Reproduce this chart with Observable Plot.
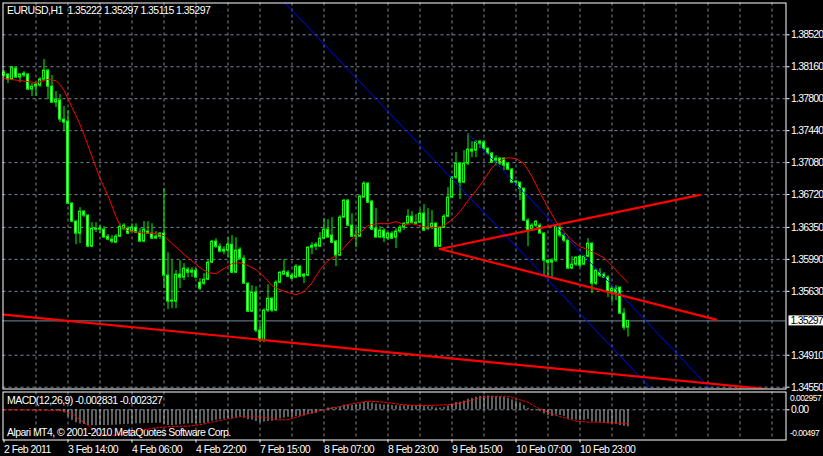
<!DOCTYPE html>
<html><head><meta charset="utf-8">
<script src="https://cdn.jsdelivr.net/npm/d3@7"></script>
<script src="https://cdn.jsdelivr.net/npm/@observablehq/plot@0.6"></script>
<style>
html,body{margin:0;padding:0;background:#000;}
#chart{position:relative;width:823px;height:456px;background:#000;overflow:hidden;}
#chart svg{position:absolute;left:0;top:0;}
#chart g[aria-label="y-axis tick label"]{letter-spacing:-0.8px;}
</style></head><body><div id="chart"></div>
<script>
const symbol = "EURUSD,H1";
const opens = [
1.38061,1.38072,1.38016,1.38140,1.38038,1.38061,1.38072,1.37903,1.37936,1.37948,
1.38016,1.38117,1.37936,1.37756,1.37779,1.37565,1.37543,1.36618,1.36415,1.36280,
1.36528,1.36483,1.36133,1.36336,1.36325,1.36325,1.36246,1.36213,1.36178,1.36246,
1.36336,1.36336,1.36303,1.36347,1.36291,1.36190,1.36303,1.36280,1.36224,1.36246,
1.36280,1.35807,1.35514,1.35514,1.35818,1.35784,1.35874,1.35840,1.35863,1.35727,
1.35716,1.35761,1.35953,1.36190,1.36133,1.36077,1.36088,1.36156,1.35840,1.36099,
1.35998,1.35716,1.35401,1.35615,1.35187,1.35074,1.35412,1.35547,1.35412,1.35727,
1.35818,1.35840,1.35807,1.35784,1.35908,1.35795,1.35807,1.36122,1.36133,1.36133,
1.36224,1.36325,1.36258,1.36190,1.36032,1.36460,1.36652,1.36370,1.36246,1.36246,
1.36686,1.36843,1.36641,1.36336,1.36235,1.36314,1.36224,1.36280,1.36235,1.36303,
1.36347,1.36392,1.36471,1.36403,1.36403,1.36505,1.36336,1.36347,1.36392,1.36133,
1.36347,1.36471,1.36686,1.36911,1.37069,1.36855,1.37069,1.37227,1.37215,1.37294,
1.37306,1.37238,1.37182,1.37103,1.37125,1.37125,1.37069,1.37001,1.36855,1.36855,
1.36787,1.36426,1.36325,1.36370,1.36370,1.36280,1.35976,1.35953,1.35976,1.36347,
1.36258,1.36201,1.35886,1.35931,1.36020,1.35931,1.36020,1.36167,1.35716,1.35840,
1.35818,1.35784,1.35626,1.35660,1.35671,1.35378,1.35222];
const highs = [
1.38117,1.38083,1.38162,1.38151,1.38083,1.38106,1.38083,1.37970,1.37981,1.38038,
1.38241,1.38128,1.38061,1.37881,1.37847,1.37711,1.37666,1.36629,1.36426,1.36573,
1.36539,1.36494,1.36403,1.36403,1.36370,1.36358,1.36269,1.36258,1.36269,1.36392,
1.36392,1.36358,1.36392,1.36392,1.36336,1.36415,1.36415,1.36392,1.36303,1.36291,
1.36787,1.36065,1.35976,1.35863,1.35976,1.35942,1.35897,1.35897,1.35886,1.35773,
1.35829,1.35976,1.36201,1.36224,1.36167,1.36133,1.36235,1.36258,1.36235,1.36122,
1.36032,1.35727,1.35694,1.35682,1.35265,1.35435,1.35705,1.35559,1.35750,1.35852,
1.35987,1.35863,1.35829,1.35931,1.35920,1.35829,1.36133,1.36178,1.36178,1.36291,
1.36449,1.36437,1.36460,1.36201,1.36483,1.36663,1.36663,1.36505,1.36347,1.36708,
1.36866,1.36855,1.36652,1.36562,1.36358,1.36336,1.36291,1.36303,1.36336,1.36370,
1.36403,1.36550,1.36528,1.36494,1.36550,1.36607,1.36562,1.36539,1.36403,1.36358,
1.36494,1.36798,1.36922,1.37193,1.37080,1.37215,1.37407,1.37317,1.37328,1.37328,
1.37328,1.37238,1.37193,1.37159,1.37136,1.37136,1.37069,1.37013,1.36877,1.36855,
1.36787,1.36449,1.36392,1.36426,1.36392,1.36291,1.35987,1.35998,1.36370,1.36370,
1.36280,1.36224,1.36020,1.36020,1.36032,1.36032,1.36224,1.36178,1.35886,1.35886,
1.35840,1.35807,1.35671,1.35694,1.35682,1.35435,1.35297];
const lows = [
1.38038,1.37970,1.38004,1.38027,1.37981,1.38038,1.37892,1.37824,1.37824,1.37925,
1.38004,1.37790,1.37745,1.37700,1.37531,1.37430,1.36607,1.36403,1.36156,1.36167,
1.36460,1.36122,1.36122,1.36291,1.36280,1.36235,1.36201,1.36167,1.36167,1.36235,
1.36314,1.36269,1.36291,1.36280,1.36178,1.36178,1.36269,1.36213,1.36213,1.36213,
1.35660,1.35424,1.35435,1.35435,1.35660,1.35750,1.35784,1.35784,1.35784,1.35637,
1.35694,1.35750,1.35942,1.36111,1.36065,1.36043,1.36009,1.35829,1.35829,1.35976,
1.35716,1.35390,1.35390,1.35164,1.35051,1.35051,1.35390,1.35390,1.35401,1.35716,
1.35807,1.35784,1.35761,1.35773,1.35784,1.35716,1.35795,1.36043,1.36088,1.36122,
1.36213,1.36235,1.36167,1.35908,1.36020,1.36460,1.36358,1.36235,1.36122,1.36235,
1.36686,1.36618,1.36314,1.36235,1.36235,1.36178,1.36201,1.36213,1.36111,1.36280,
1.36314,1.36381,1.36392,1.36381,1.36392,1.36303,1.36314,1.36325,1.36122,1.36122,
1.36336,1.36460,1.36675,1.36888,1.36663,1.36843,1.37046,1.37136,1.37136,1.37238,
1.37215,1.37159,1.37069,1.37046,1.37046,1.36990,1.36990,1.36843,1.36821,1.36652,
1.36415,1.36133,1.36303,1.36347,1.36280,1.35807,1.35784,1.35784,1.35953,1.36235,
1.36178,1.35874,1.35874,1.35908,1.35897,1.35920,1.36009,1.35604,1.35694,1.35784,
1.35773,1.35559,1.35502,1.35525,1.35378,1.35187,1.35115];
const closes = [
1.38094,1.38016,1.38151,1.38038,1.38072,1.38083,1.37903,1.37936,1.37959,1.38016,
1.38117,1.37936,1.37756,1.37790,1.37565,1.37531,1.36618,1.36415,1.36280,1.36528,
1.36483,1.36133,1.36336,1.36325,1.36336,1.36235,1.36213,1.36190,1.36246,1.36358,
1.36370,1.36280,1.36347,1.36291,1.36190,1.36325,1.36280,1.36224,1.36246,1.36280,
1.35807,1.35514,1.35525,1.35818,1.35784,1.35886,1.35840,1.35863,1.35784,1.35660,
1.35761,1.35953,1.36190,1.36133,1.36077,1.36099,1.36156,1.35840,1.36088,1.35998,
1.35716,1.35401,1.35615,1.35187,1.35074,1.35412,1.35547,1.35412,1.35727,1.35840,
1.35852,1.35795,1.35773,1.35908,1.35795,1.35818,1.36122,1.36144,1.36156,1.36224,
1.36325,1.36235,1.36178,1.36032,1.36460,1.36652,1.36370,1.36246,1.36258,1.36697,
1.36843,1.36629,1.36325,1.36235,1.36314,1.36235,1.36280,1.36224,1.36303,1.36347,
1.36392,1.36471,1.36403,1.36392,1.36505,1.36314,1.36347,1.36392,1.36133,1.36347,
1.36471,1.36686,1.36911,1.37069,1.36855,1.37069,1.37227,1.37204,1.37306,1.37317,
1.37238,1.37182,1.37080,1.37125,1.37069,1.37046,1.37001,1.36855,1.36866,1.36787,
1.36426,1.36314,1.36370,1.36415,1.36280,1.35976,1.35953,1.35976,1.36358,1.36258,
1.36201,1.35886,1.35931,1.36009,1.35920,1.36020,1.36167,1.35716,1.35863,1.35807,
1.35784,1.35626,1.35660,1.35615,1.35378,1.35221,1.35297];

// moving average (bar index, price)
const maIdx = [0,4,8,11,13,14,15,16,17,18,19,20,21,22,23,24,26,28,29,31,34,38,40,42,46,49,51,53,55,57,59,61,63,65,67,69,71,73,75,77,79,81,83,85,87,89,91,93,96,98,100,102,105,108,110,112,114,116,118,120,122,124,126,128,130,132,134,136,138,140,142,144,146,148,150,152,154,156];
const maVal = [1.38027,1.38004,1.37981,1.38016,1.38004,1.37959,1.37892,1.37802,1.37700,1.37610,1.37509,1.37396,1.37272,1.37148,1.37024,1.36900,1.36708,1.36472,1.36370,1.36314,1.36291,1.36280,1.36258,1.36167,1.36009,1.35897,1.35840,1.35829,1.35886,1.35942,1.35953,1.35920,1.35874,1.35795,1.35694,1.35648,1.35615,1.35592,1.35626,1.35727,1.35874,1.35976,1.36032,1.36122,1.36224,1.36291,1.36370,1.36392,1.36392,1.36415,1.36381,1.36392,1.36358,1.36347,1.36370,1.36437,1.36528,1.36652,1.36765,1.36888,1.37024,1.37103,1.37136,1.37125,1.37069,1.36922,1.36742,1.36573,1.36415,1.36303,1.36201,1.36133,1.36099,1.36054,1.36009,1.35920,1.35818,1.35727];

// trend lines: [bar index, price] anchor pairs
const supportIdx = [0, 190], supportPx = [1.35367, 1.34532];
const wedgeUpIdx = [109, 174], wedgeUpPx = [1.36107, 1.36717];
const wedgeDnIdx = [109, 178], wedgeDnPx = [1.36107, 1.35312];
const channelAIdx = [70, 162], channelAPx = [1.38890, 1.34523];
const channelBIdx = [116, 177], channelBPx = [1.37407, 1.34512];

// MACD(12,26,9)
const macdHist = [
0.00004,0.00002,0.00005,0.00004,0.00003,0.00003,-0.00002,-0.00005,-0.00007,-0.00005,0.00002,-0.00002,-0.00010,-0.00014,
-0.00030,-0.00050,-0.00120,-0.00175,-0.00215,-0.00235,-0.00245,-0.00262,-0.00265,
-0.00265,-0.00262,-0.00262,-0.00260,-0.00258,-0.00255,-0.00250,-0.00245,-0.00242,-0.00238,-0.00235,-0.00235,-0.00230,-0.00228,-0.00226,-0.00225,-0.00222,
-0.00240,-0.00262,-0.00262,-0.00255,-0.00250,-0.00240,-0.00235,-0.00230,-0.00230,-0.00235,-0.00230,
-0.00215,-0.00190,-0.00175,-0.00165,-0.00155,-0.00145,-0.00150,-0.00135,-0.00130,-0.00140,-0.00165,-0.00170,-0.00195,-0.00215,-0.00205,-0.00195,-0.00190,-0.00170,-0.00150,-0.00135,-0.00125,
-0.00120,-0.00110,-0.00110,-0.00100,-0.00080,-0.00070,-0.00060,-0.00030,0.00000,
0.00030,0.00035,0.00030,0.00050,0.00075,0.00080,0.00080,0.00075,0.00100,0.00125,0.00125,0.00110,0.00095,0.00088,0.00080,0.00075,0.00070,0.00068,
0.00066,0.00066,0.00070,0.00068,0.00065,0.00066,0.00055,0.00050,0.00048,0.00030,0.00030,0.00040,
0.00065,0.00090,0.00120,0.00125,0.00145,0.00175,0.00190,0.00210,0.00222,0.00228,0.00230,0.00225,0.00222,0.00218,0.00205,0.00190,0.00165,0.00140,0.00115,0.00070,
0.00025,0.00005,-0.00015,-0.00030,-0.00070,-0.00095,-0.00110,-0.00090,-0.00095,-0.00110,-0.00150,-0.00165,-0.00170,-0.00178,-0.00175,-0.00160,-0.00200,-0.00205,-0.00210,-0.00218,-0.00235,-0.00240,-0.00245,-0.00262,-0.00275,-0.002831];
const sigIdx = [0,14,17,19,21,23,25,27,30,34,38,42,46,49,52,56,59,62,66,68,71,73,76,78,81,84,87,91,95,99,103,107,112,116,119,122,126,128,131,133,136,138,141,143,146,149,152,156];
const sigVal = [0,-0.00011,-0.00066,-0.00166,-0.00260,-0.00371,-0.00410,-0.00426,-0.00399,-0.00343,-0.00299,-0.00277,-0.00271,-0.00249,-0.00205,-0.00150,-0.00111,-0.00105,-0.00133,-0.00166,-0.00166,-0.00122,-0.00066,-0.00028,0.00017,0.00055,0.00100,0.00144,0.00127,0.00089,0.00072,0.00072,0.00089,0.00144,0.00199,0.00221,0.00226,0.00183,0.00127,0.00044,-0.00039,-0.00094,-0.00150,-0.00188,-0.00205,-0.00205,-0.00216,-0.002327];

// axes
const priceTicks = [1.38520,1.38160,1.37800,1.37440,1.37080,1.36720,1.36350,1.35990,1.35630,1.34910,1.34550];
const macdTickVals = [0.002957, 0, -0.00497];
const macdTickLabels = ["0.002957", "0.00", "-0.00497"];
const timeLabelIdx = [0,16,32,48,64,80,96,112,128,144];
const timeLabels = ["2 Feb 2011","3 Feb 14:00","4 Feb 06:00","4 Feb 22:00","7 Feb 15:00","8 Feb 07:00","8 Feb 23:00","9 Feb 15:00","10 Feb 07:00","10 Feb 23:00"];
const gridIdx = d3.range(8, 193, 8);
const copyright = "Alpari MT4, \u00a9 2001-2010 MetaQuotes Software Corp.";

// ---------- rendering ----------
const W = 823, H = 456;
const GRID = "#778899", LIME = "#00ff00";
const bars = opens.map((o, i) => ({i, o, h: highs[i], l: lows[i], c: closes[i]}));
const ma = maIdx.map((i, k) => ({i, v: maVal[k]}));
const pairs = (idx, px, name) => idx.map((i, k) => ({i, p: px[k], name}));
const redLines = [...pairs(supportIdx, supportPx, "s"), ...pairs(wedgeUpIdx, wedgeUpPx, "u"), ...pairs(wedgeDnIdx, wedgeDnPx, "d")];
const blueLines = [...pairs(channelAIdx, channelAPx, "a"), ...pairs(channelBIdx, channelBPx, "b")];
const macd = macdHist.map((v, i) => ({i, v}));
const sig = sigIdx.map((i, k) => ({i, v: sigVal[k]}));
const last = bars[bars.length - 1];
const f5 = d3.format(".5f");
const title = `${symbol}\u00a0\u00a0${f5(last.o)} ${f5(last.h)} ${f5(last.l)} ${f5(last.c)}`;
const macdTitle = `MACD(12,26,9) ${macdHist[macdHist.length-1].toFixed(6)} ${sigVal[sigVal.length-1].toFixed(6)}`;

const font = "'Liberation Sans', Arial, sans-serif";
const baseStyle = {color: "white", fontFamily: font, fontSize: "10.5px", letterSpacing: "-0.55px", overflow: "visible"};
const xOpt = {domain: [0, 195], range: [3.5, 783.5], axis: null};

const main = Plot.plot({
  width: W, height: H,
  marginLeft: 2.5, marginTop: 2.5, marginRight: 37.5, marginBottom: H - 388.5,
  x: xOpt,
  y: {domain: [1.34550, 1.38520], range: [386.7, 34.3], axis: null},
  style: {...baseStyle, background: "#000"},
  marks: [
    Plot.ruleY(priceTicks, {stroke: GRID, strokeDasharray: "3,3"}),
    Plot.ruleX(gridIdx, {stroke: GRID, strokeDasharray: "3,3"}),
    Plot.ruleY([last.c], {stroke: GRID}),
    Plot.ruleX(bars, {x: "i", y1: "l", y2: "h", stroke: LIME}),
    Plot.rect(bars.filter(d => d.c > d.o), {x1: d => d.i - 0.25, x2: d => d.i + 0.25, y1: "o", y2: "c", fill: "black", stroke: LIME}),
    Plot.rect(bars.filter(d => d.c <= d.o), {x1: d => d.i - 0.25, x2: d => d.i + 0.25, y1: "o", y2: "c", fill: "white", stroke: LIME}),
    Plot.line(ma, {x: "i", y: "v", stroke: "#ff0000", strokeWidth: 1}),
    Plot.line(blueLines, {x: "i", y: "p", z: "name", stroke: "#0000ff", strokeWidth: 1, clip: true}),
    Plot.line(redLines, {x: "i", y: "p", z: "name", stroke: "#ff0000", strokeWidth: 2.2, clip: true}),
    Plot.frame({stroke: "white"}),
    Plot.axisY(priceTicks, {anchor: "right", tickSize: 3, tickPadding: 2, tickFormat: f5, label: null, color: "white"}),
    Plot.text([title], {frameAnchor: "top-left", dx: 4, dy: 4, lineAnchor: "top", textAnchor: "start", fill: "white"})
  ]
});

// current price tag on the right axis
{
  const y = main.scale("y").apply(last.c);
  const g = d3.select(main).append("g");
  g.append("rect").attr("x", W - 37.5 + 3).attr("y", y - 5).attr("width", 40).attr("height", 10).attr("fill", "white");
  g.append("text").attr("x", W - 37.5 + 5).attr("y", y).attr("dy", "0.35em").attr("fill", "black")
    .attr("text-anchor", "start").attr("font-family", font).attr("font-size", 10.5)
    .attr("letter-spacing", "-0.8px").text(f5(last.c));
}

const sub = Plot.plot({
  width: W, height: H,
  marginLeft: 2.5, marginTop: 391.5, marginRight: 37.5, marginBottom: H - 439.5,
  x: xOpt,
  y: {domain: [macdTickVals[2], macdTickVals[0]], range: [439.2, 391.5], axis: null},
  style: {...baseStyle, background: "transparent"},
  marks: [
    Plot.ruleX(gridIdx, {stroke: GRID, strokeDasharray: "3,3"}),
    Plot.ruleY([0], {stroke: GRID, strokeDasharray: "3,3"}),
    Plot.ruleX(macd, {x: "i", y1: 0, y2: "v", stroke: "#c0c0c0"}),
    Plot.line(sig, {x: "i", y: "v", stroke: "#ff0000", strokeWidth: 1, strokeDasharray: "2,2"}),
    Plot.frame({stroke: "white"}),
    Plot.axisX(timeLabelIdx, {anchor: "bottom", tickSize: 3, tickPadding: 2.5, textAnchor: "start", tickFormat: d => timeLabels[timeLabelIdx.indexOf(d)], label: null, color: "white"}),
    Plot.axisY([0], {anchor: "right", tickSize: 3, tickPadding: 2, tickFormat: () => macdTickLabels[1], label: null, color: "white"}),
    Plot.text([macdTickLabels[0]], {frameAnchor: "top-right", dx: 4, dy: 6, lineAnchor: "middle", textAnchor: "start", fill: "white", fontSize: 8.5}),
    Plot.text([macdTickLabels[2]], {frameAnchor: "bottom-right", dx: 4, dy: -7, lineAnchor: "middle", textAnchor: "start", fill: "white", fontSize: 8.5}),
    Plot.text([macdTitle], {frameAnchor: "top-left", dx: 4, dy: 5, lineAnchor: "top", textAnchor: "start", fill: "white"}),
    Plot.text([copyright], {frameAnchor: "bottom-left", dx: 4, dy: -4, lineAnchor: "bottom", textAnchor: "start", fill: "white"})
  ]
});

const host = document.getElementById("chart");
host.appendChild(main);
host.appendChild(sub);
</script>
</body></html>
